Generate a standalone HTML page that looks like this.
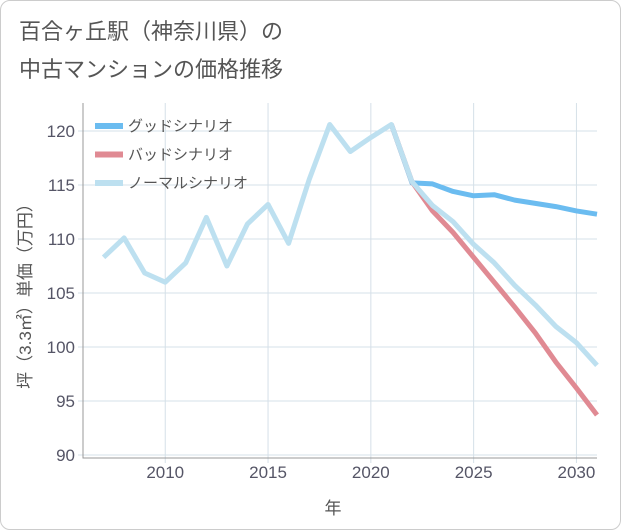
<!DOCTYPE html>
<html><head><meta charset="utf-8"><style>
body{margin:0;background:#fff;}
#wrap{position:relative;width:619px;height:528px;border:1px solid #ccc;border-radius:10px;overflow:hidden;font-family:"Liberation Sans","Noto Sans CJK JP",sans-serif;}
.t{position:absolute;left:18px;font-size:22px;color:#555;}
</style></head><body>
<div id="wrap">
<div class="t" style="top:13px">百合ヶ丘駅（神奈川県）の</div>
<div class="t" style="top:51px">中古マンションの価格推移</div>
<svg id="c" width="621" height="530" style="position:absolute;left:-1px;top:-1px"></svg>
</div>
<script>
const years=[2007,2008,2009,2010,2011,2012,2013,2014,2015,2016,2017,2018,2019,2020,2021,2022,2023,2024,2025,2026,2027,2028,2029,2030,2031];
const normal=[108.3,110.1,106.85,106.0,107.8,112.0,107.5,111.4,113.2,109.6,115.5,120.6,118.1,119.4,120.6,115.3,113.1,111.6,109.5,107.8,105.7,103.9,101.9,100.4,98.3];
const goodYears=[2021,2022,2023,2024,2025,2026,2027,2028,2029,2030,2031];
const good=[120.6,115.2,115.1,114.4,114.0,114.1,113.6,113.3,113.0,112.6,112.3];
const bad=[120.6,115.3,112.6,110.6,108.3,106.0,103.7,101.3,98.6,96.2,93.7];
const yTicks=[90,95,100,105,110,115,120];
const xTicks=[2010,2015,2020,2025,2030];
const X0=83,X1=597,Y0=103,Y1=458;
const sx=v=>X0+(v-2006)*(X1-X0)/25;
const sy=v=>455-(v-90)*10.8;
const svg=document.getElementById('c');const NS='http://www.w3.org/2000/svg';
function mk(t,a,p){const e=document.createElementNS(NS,t);for(const k in a)e.setAttribute(k,a[k]);(p||svg).appendChild(e);return e;}
yTicks.forEach(v=>{
 const l=mk('line',{x1:X0-5,x2:X1,y1:sy(v),y2:sy(v),stroke:'#d5e0e8','stroke-width':1});
 
 const t=mk('text',{x:X0-8,y:sy(v)+6,'text-anchor':'end','font-size':17,fill:'#556'});t.textContent=v;
 
});
xTicks.forEach(v=>{
 const l=mk('line',{x1:sx(v),x2:sx(v),y1:Y0,y2:Y1+5,stroke:'#d5e0e8','stroke-width':1});
 
 const t=mk('text',{x:sx(v),y:478,'text-anchor':'middle','font-size':17,fill:'#556'});t.textContent=v;
 
});
const ax=mk('path',{d:`M${X0} ${Y0}V${Y1}H${X1}`,fill:'none',stroke:'#999','stroke-width':1});

function line(xs,ys,c,n){const p=mk('polyline',{points:xs.map((x,i)=>sx(x)+','+sy(ys[i])).join(' '),fill:'none',stroke:c,'stroke-width':5,'stroke-linejoin':'round'});
 }
line(goodYears,good,'#6bbcf0','good-scenario-line');
line(goodYears,bad,'#e08a93','bad-scenario-line');
line(years,normal,'#bde0f0','normal-scenario-line');
[['グッドシナリオ','#6bbcf0'],['バッドシナリオ','#e08a93'],['ノーマルシナリオ','#bde0f0']].forEach((d,i)=>{
 const y=126+i*28.5;
 const r=mk('rect',{x:95,y:y-3,width:28,height:6,fill:d[1]});
 
 const t=mk('text',{x:128,y:y+5,'font-size':15,fill:'#555'});t.textContent=d[0];
 
});
const yl=mk('text',{x:0,y:0,transform:'translate(31,292) rotate(-90)','text-anchor':'middle','font-size':17,fill:'#555'});yl.textContent='坪（3.3㎡）単価（万円）';

const xl=mk('text',{x:333,y:514,'text-anchor':'middle','font-size':17,fill:'#555'});xl.textContent='年';

</script>
</body></html>
